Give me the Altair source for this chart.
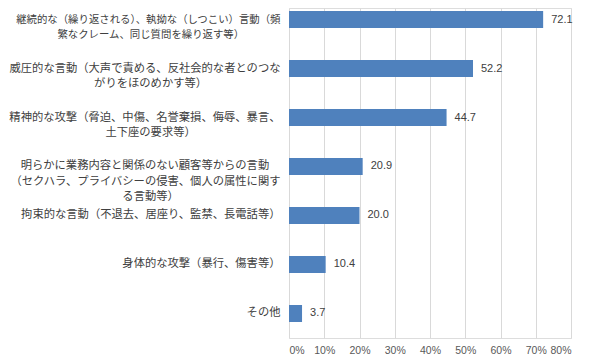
import altair as alt
import pandas as pd

S = "\u3000"   # ideographic space used to centre short lines
J = "\u2060"   # word joiner keeps the trailing spaces from hanging

categories = [
    "継続的な（繰り返される）、執拗な（しつこい）言動（頻\n繁なクレーム、同じ質問を繰り返す等）" + S * 4 + J,
    "威圧的な言動（大声で責める、反社会的な者とのつな\nがりをほのめかす等）" + S * 7 + J,
    "精神的な攻撃（脅迫、中傷、名誉棄損、侮辱、暴言、\n土下座の要求等）" + S * 8 + J,
    "明らかに業務内容と関係のない顧客等からの言動" + S + J
    + "\n（セクハラ、プライバシーの侵害、個人の属性に関す\nる言動等）" + S * 9 + "\u2002" + J,
    "拘束的な言動（不退去、居座り、監禁、長電話等）",
    "身体的な攻撃（暴行、傷害等）",
    "その他",
]
values = [72.1, 52.2, 44.7, 20.9, 20.0, 10.4, 3.7]
x_ticks = [0, 10, 20, 30, 40, 50, 60, 70, 80]

df = pd.DataFrame({"category": categories, "value": values})

y_enc = alt.Y(
    "category:N",
    sort=categories,
    title=None,
    scale=alt.Scale(paddingInner=0.653, paddingOuter=0.194, align=0.158),
    axis=alt.Axis(
        labelExpr="split(datum.label, '\\n')",
        labelFont="Noto Sans CJK JP",
        labelFontSize={
            "condition": {"test": "indexof(datum.value, '継続的') == 0", "value": 10.4},
            "value": 11.3,
        },
        labelColor="#404040",
        labelLineHeight=15.5,
        labelPadding=9,
        labelLimit=400,
        ticks=False,
        domain=False,
        grid=False,
    ),
)

x_enc = alt.X(
    "value:Q",
    title=None,
    scale=alt.Scale(domain=[0, 80], nice=False),
    axis=alt.Axis(
        values=x_ticks,
        labelExpr="datum.value + '%'",
        labelFont="Liberation Sans",
        labelFontSize=10.5,
        labelColor="#595959",
        labelPadding=7,
        labelOverlap=False,
        ticks=False,
        domain=False,
        grid=True,
        gridColor="#d9d9d9",
        gridWidth=1,
    ),
)

base = alt.Chart(df).encode(x=x_enc, y=y_enc)

bars = base.mark_bar(color="#4f81bd")

labels = base.mark_text(
    align="left",
    baseline="middle",
    dx=8,
    font="Liberation Sans",
    fontSize=11,
    color="#404040",
).encode(text=alt.Text("value:Q", format=".1f"))

chart = (
    alt.layer(bars, labels)
    .properties(
        width=282,
        height=330,
        autosize=alt.AutoSizeParams(type="none"),
        padding={"left": 281, "top": 0, "right": 10, "bottom": 19},
    )
    .configure_view(stroke=None)
    .configure(background="white")
)

chart.save("out.html", embed_options={"renderer": "svg", "actions": False})
